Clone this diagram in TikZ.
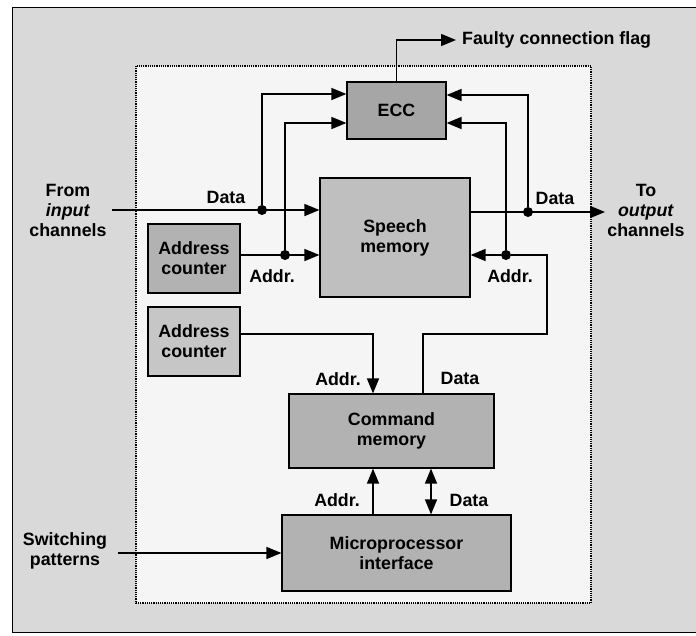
\documentclass[tikz,border=0pt]{standalone}
\usepackage{fontspec}
\setmainfont{Liberation Sans}
\usetikzlibrary{arrows.meta}

\begin{document}
\begin{tikzpicture}
  [x=1pt,y=-1pt,font=\bfseries\fontsize{17.8}{20}\selectfont,
   block/.style={draw,line width=1.2pt,fill=gray!60,align=center,inner sep=0pt},
   lbl/.style={align=center,inner sep=0pt},
   dot/.style={circle,fill=black,inner sep=0pt,minimum size=10pt},
   wire/.style={line width=1.5pt},
   arr/.style={wire,-{Triangle[length=15pt,width=12pt]}},
   darr/.style={wire,{Triangle[length=15pt,width=12pt]}-{Triangle[length=15pt,width=12pt]}}]
  \useasboundingbox (0,0) rectangle (696,635);
  \fill[gray!30] (12,7) rectangle (696,632);
  \draw[line width=1pt] (696,7) -- (12,7) -- (12,632) -- (696,632);
  \draw[densely dotted,line width=1.2pt,fill=gray!8] (136,66) rectangle (591,603);

  % blocks
  \node[block,minimum width=99pt,minimum height=57pt,fill=gray!70] (ecc) at (396.5,110.5) {ECC};
  \node[block,minimum width=150pt,minimum height=119pt,fill=gray!50] (speech) at (395,237.5) {Speech\\memory};
  \node[block,minimum width=92pt,minimum height=69pt] (ac1) at (194,258.5) {Address\\counter};
  \node[block,minimum width=92pt,minimum height=69pt,fill=gray!45] (ac2) at (194,341.5) {Address\\counter};
  \node[block,minimum width=205pt,minimum height=74pt] (cmd) at (391.5,431) {Command\\memory};
  \node[block,minimum width=229pt,minimum height=76pt] (mpi) at (396.5,553) {Microprocessor\\interface};

  % outside texts
  \node[lbl] (in) at (68,210) {From\\\textit{input}\\channels};
  \node[lbl] (out) at (646,210) {To\\\textit{output}\\channels};
  \node[lbl] (sw) at (65,551) {Switching\\patterns};
  \node[lbl,anchor=west,inner sep=6pt] (flag) at (456,40) {Faulty connection flag};

  % junctions
  \coordinate (inS) at (112,210);
  \coordinate (outE) at (605,212);
  \coordinate (swS) at (118,553);
  \coordinate (bend) at (547,334);
  \node[dot] (d1) at (262,210) {};
  \node[dot] (d2) at (285,255) {};
  \node[dot] (d3) at (528,212) {};
  \node[dot] (d4) at (506,255) {};

  \draw[arr] (inS) -- (speech.west |- inS);
  \draw[arr] (ecc.north) |- (flag.west);
  \draw[arr] (speech.east |- outE) -- (outE);
  \draw[arr] (swS) -- (mpi.west);
  \draw[wire] ([xshift=31.5pt]cmd.north) |- (bend) |- (d4);
  \draw[arr] (ac2.east |- bend) -| ([xshift=-18.5pt]cmd.north);
  \draw[arr] ([xshift=-23.5pt]mpi.north) -- ([xshift=-18.5pt]cmd.south);
  \draw[darr] ([xshift=34.5pt]mpi.north) -- ([xshift=39.5pt]cmd.south);
  \draw[arr] (ac1.east |- d2) -- (speech.west |- d2);
  \draw[arr] (d4) -- (speech.east |- d4);
  \draw[arr] (d1) |- ([yshift=16.5pt]ecc.west);
  \draw[arr] (d2) |- ([yshift=-12.5pt]ecc.west);
  \draw[arr] (d3) |- ([yshift=15.5pt]ecc.east);
  \draw[arr] (d4) |- ([yshift=-12.5pt]ecc.east);

  % labels
  \node[lbl] (ldata1) at (226,197) {Data};
  \node[lbl] (laddr1) at (272,276) {Addr.};
  \node[lbl] (ldata2) at (555,198) {Data};
  \node[lbl] (laddr2) at (510,276) {Addr.};
  \node[lbl] (laddr3) at (338,379) {Addr.};
  \node[lbl] (ldata3) at (460,378) {Data};
  \node[lbl] (laddr4) at (337,500) {Addr.};
  \node[lbl] (ldata4) at (469,500) {Data};

\end{tikzpicture}
\end{document}
